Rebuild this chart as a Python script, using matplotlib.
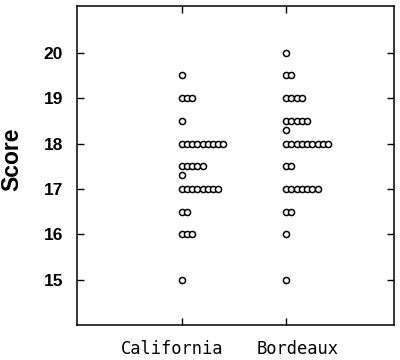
import matplotlib
matplotlib.use("Agg")
import matplotlib.pyplot as plt
import matplotlib.transforms as mtransforms
from collections import defaultdict

categories = ["California", "Bordeaux"]
california_scores = [19.5,
                     19.0, 19.0, 19.0,
                     18.5,
                     18.0, 18.0, 18.0, 18.0, 18.0, 18.0, 18.0, 18.0, 18.0,
                     17.5, 17.5, 17.5, 17.5, 17.5,
                     17.3,
                     17.0, 17.0, 17.0, 17.0, 17.0, 17.0, 17.0, 17.0,
                     16.5, 16.5,
                     16.0, 16.0, 16.0,
                     15.0]
bordeaux_scores = [20.0,
                   19.5, 19.5,
                   19.0, 19.0, 19.0, 19.0,
                   18.5, 18.5, 18.5, 18.5, 18.5,
                   18.3,
                   18.0, 18.0, 18.0, 18.0, 18.0, 18.0, 18.0, 18.0, 18.0,
                   17.5, 17.5,
                   17.0, 17.0, 17.0, 17.0, 17.0, 17.0, 17.0,
                   16.5, 16.5,
                   16.0,
                   15.0]
yticks = [15, 16, 17, 18, 19, 20]

fig = plt.figure(figsize=(4.0, 3.6), dpi=100)
ax = fig.add_axes([0.1925, 0.0972, 0.7925, 0.8861])

step = 0.05
for i, scores in enumerate([california_scores, bordeaux_scores], start=1):
    counts = defaultdict(int)
    xs, ys = [], []
    for s in scores:
        xs.append(i + counts[s] * step)
        ys.append(s)
        counts[s] += 1
    ax.plot(xs, ys, linestyle="none", marker="o", markersize=4.4,
            markerfacecolor="white", markeredgecolor="black",
            markeredgewidth=1.1)

ax.set_xlim(0, 3.03)
ax.set_ylim(14, 21.03)
ax.set_xticks([1, 2])
ax.set_xticklabels([])
# category labels, offset horizontally as in the reference
offsets_px = [-9, 11]
base = mtransforms.blended_transform_factory(ax.transData, ax.transAxes)
for i, (lab, dx) in enumerate(zip(categories, offsets_px), start=1):
    tr = base + mtransforms.ScaledTranslation(dx / fig.dpi, 0, fig.dpi_scale_trans)
    ax.text(i, -0.048, lab, transform=tr, ha="center", va="top",
            family="DejaVu Sans Mono", fontsize=12.3)
ax.set_yticks(yticks)
ax.set_yticklabels([str(t) for t in yticks], family="Liberation Sans",
                   fontweight="bold", fontsize=12.5)
ax.tick_params(direction="in", length=5, width=1, top=True, right=True)
ax.tick_params(axis="y", pad=10)
for sp in ax.spines.values():
    sp.set_linewidth(1.1)
ax.set_ylabel("Score", family="Liberation Sans", fontweight="bold", fontsize=16.5)
ax.yaxis.set_label_coords(-0.169, 0.52)

fig.savefig("out.png", dpi=100)
